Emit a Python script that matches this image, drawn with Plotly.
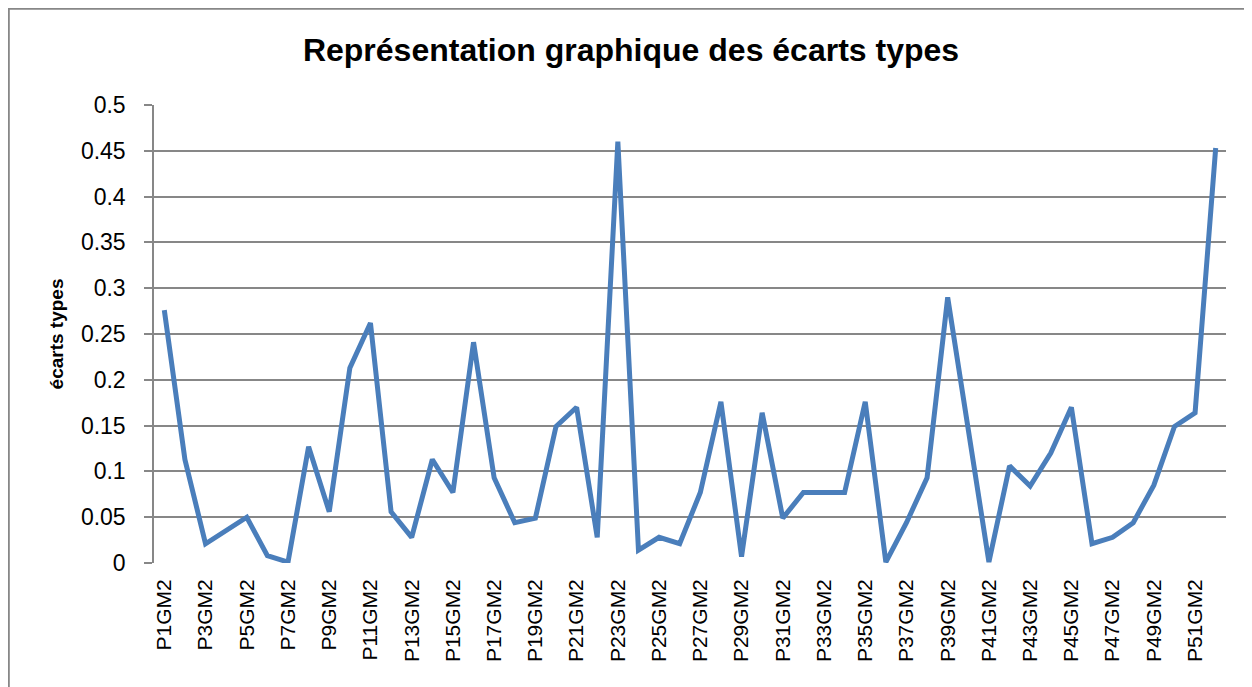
import plotly.graph_objects as go

# ===== 数据 =====
categories = [f"P{i}GM2" for i in range(1, 53)]
ecarts = [
    0.276, 0.113, 0.021, 0.036, 0.050, 0.008, 0.001, 0.127, 0.056, 0.213,
    0.262, 0.056, 0.028, 0.113, 0.077, 0.241, 0.093, 0.044, 0.049, 0.149,
    0.170, 0.028, 0.460, 0.014, 0.028, 0.021, 0.077, 0.176, 0.007, 0.164,
    0.049, 0.077, 0.077, 0.077, 0.176, 0.001, 0.044, 0.093, 0.290, 0.145,
    0.001, 0.106, 0.084, 0.120, 0.170, 0.021, 0.028, 0.044, 0.085, 0.149,
    0.164, 0.453,
]
tick_labels = categories[::2]
y_ticks = [0, 0.05, 0.1, 0.15, 0.2, 0.25, 0.3, 0.35, 0.4, 0.45, 0.5]
y_tick_text = ["0", "0.05", "0.1", "0.15", "0.2", "0.25", "0.3", "0.35", "0.4", "0.45", "0.5"]

font_family = "Liberation Sans, Arial, sans-serif"

# page body has an 8px margin, so figure coords = screen coords - 8
W, H = 1252, 687
L, R, T, B = 146, 34, 97, 132
pw, ph = W - L - R, H - T - B

fig = go.Figure()
fig.add_trace(go.Scatter(
    x=categories, y=ecarts,
    mode='lines',
    line=dict(color='#4A7EBB', width=5),
    showlegend=False,
))

fig.update_layout(
    width=W, height=H,
    margin=dict(l=L, r=R, t=T, b=B),
    paper_bgcolor='white', plot_bgcolor='white',
    font=dict(family=font_family, color='black'),
    title=dict(
        text='<b>Représentation graphique des écarts types</b>',
        x=623 / W, xanchor='center',
        y=1 - 42 / H, yanchor='middle',
        font=dict(size=32, family=font_family, color='black'),
    ),
    shapes=[dict(
        type='rect', xref='paper', yref='paper',
        x0=(0.8 - L) / pw, x1=(W + 20 - L) / pw,
        y0=-(B + 20) / ph, y1=(H - B - 0.8) / ph,
        line=dict(color='#878787', width=2), fillcolor='rgba(0,0,0,0)',
        layer='below',
    )],
)

fig.update_xaxes(
    type='category',
    categoryorder='array', categoryarray=categories,
    range=[-0.5, 51.5],
    tickmode='array', tickvals=tick_labels, ticktext=tick_labels,
    tickangle=-90,
    tickfont=dict(size=21, family=font_family),
    ticklabelstandoff=11,
    showgrid=False, zeroline=False,
    showline=False,
    ticks='', ticklen=0,
)

fig.update_yaxes(
    range=[0, 0.5],
    tickmode='array', tickvals=y_ticks, ticktext=y_tick_text,
    tickfont=dict(size=23, family=font_family),
    ticklabelstandoff=14,
    showgrid=True, gridcolor='#878787', gridwidth=1.5,
    zeroline=False,
    showline=True, linecolor='#878787', linewidth=1.5,
    ticks='outside', ticklen=8, tickcolor='#878787', tickwidth=1.5,
    title=dict(text='<b>écarts types</b>', font=dict(size=19, family=font_family), standoff=12),
)

fig.write_html("out.html")
